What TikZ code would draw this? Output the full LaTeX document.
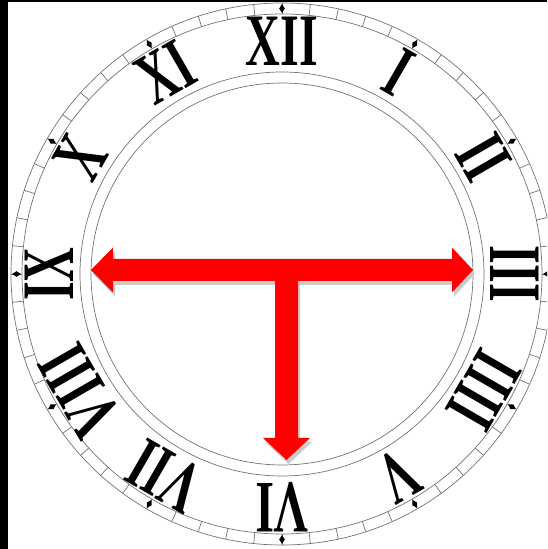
\documentclass[tikz,border=0pt]{standalone}
\usepackage{fontspec}
\setmainfont{Liberation Serif}
\usetikzlibrary{calc}

\newcommand{\pointerpath}{(91,279) -- (113,301.5) -- (113,290) -- (452,290) -- (452,301.5) -- (473,279) -- (452,256.5) -- (452,268) -- (298,268) -- (298,111) -- (310,111) -- (286.5,89) -- (263,111) -- (275,111) -- (275,268) -- (113,268) -- (113,256.5) -- cycle}

\begin{document}
\begin{tikzpicture}[
    x=1pt, y=1pt,
    ring/.style={draw=black!55, line width=0.7pt},
    numeral/.style={inner sep=0pt, font=\fontsize{74}{74}\selectfont\bfseries},
    pointer/.style={fill=red},
    pointershadow/.style={fill=black!20}
]
\useasboundingbox (0,0) rectangle (547,549);
\clip (0,0) rectangle (547,549);
\fill[black] (0,0) rectangle (8,549);
\fill[black] (0,547) rectangle (547,549);

\coordinate (c) at (282,275);

% minute ring
\draw[ring] (c) circle (271);
\draw[ring] (c) circle (260);
\foreach \a in {0,6,...,354}
    \draw[ring] ($(c)+(\a:260)$) -- ($(c)+(\a:271)$);
\foreach \a in {0,30,...,330}
    \fill[black] ($(c)+(\a:261)$) -- ($(c)+(\a+0.6:265.5)$) -- ($(c)+(\a:270)$) -- ($(c)+(\a-0.6:265.5)$) -- cycle;

% inner rings
\draw[ring] (c) circle (202);
\draw[ring] (c) circle (191);

% hours
\foreach \h/\t in {1/I,2/II,3/III,4/IIII,5/V,6/VI,7/VII,8/VIII,9/IX,10/X,11/XI,12/XII}
    \node[numeral, rotate=-30*\h] (h\h) at ($(c)+(90-30*\h:233)$) {\scalebox{0.65}[1]{\t}};

% pointers
\fill[pointershadow, xshift=2, yshift=-4] \pointerpath;
\fill[pointer] \pointerpath;

\end{tikzpicture}
\end{document}
